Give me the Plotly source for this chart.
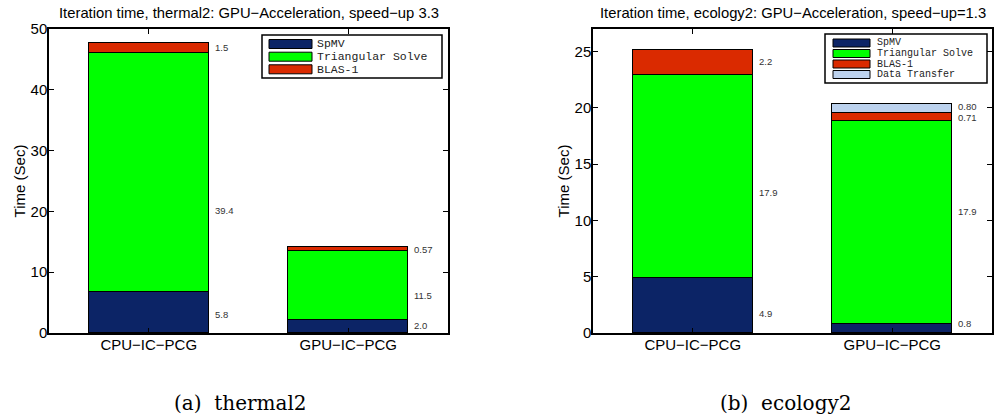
import plotly.graph_objects as go

# ---------------- data ----------------
categories = ["CPU\u2212IC\u2212PCG", "GPU\u2212IC\u2212PCG"]
series_names_a = ["SpMV", "Triangular Solve", "BLAS-1"]
series_names_b = ["SpMV", "Triangular Solve", "BLAS-1", "Data Transfer"]

thermal_spmv = [6.7, 2.1]
thermal_tri = [39.3, 11.4]
thermal_blas = [1.7, 0.6]
thermal_labels_cpu = ["5.8", "39.4", "1.5"]
thermal_labels_gpu = ["2.0", "11.5", "0.57"]

ecology_spmv = [4.9, 0.8]
ecology_tri = [18.0, 18.0]
ecology_blas = [2.2, 0.7]
ecology_transfer = [None, 0.8]
ecology_labels_cpu = ["4.9", "17.9", "2.2"]
ecology_labels_gpu = ["0.8", "17.9", "0.71", "0.80"]

title_a = "Iteration time, thermal2: GPU\u2212Acceleration, speed\u2212up 3.3"
title_b = "Iteration time, ecology2: GPU\u2212Acceleration, speed\u2212up=1.3"
caption_a = "(a)\u00a0 thermal2"
caption_b = "(b)\u00a0 ecology2"
ytitle = "Time (Sec)"

# ---------------- styling ----------------
W, H = 994, 420
colors = ["#0c2466", "#00ff00", "#da2a00", "#bcd2ee"]
SANS = "Liberation Sans, Arial, sans-serif"
MONO = "Liberation Mono, Courier New, monospace"
SERIF = "DejaVu Serif, serif"

# label anchor heights (data units) for the value annotations
label_pos_a = {0: [3.1, 20.1, 46.9], 1: [1.2, 6.1, 13.8]}
label_pos_b = {0: [1.7, 12.5, 24.1], 1: [0.8, 10.8, 19.1, 20.1]}


def px(x):
    return x / W


def py(y):
    return 1 - y / H


fig = go.Figure()

xs = [0, 1]
for name, vals, c in zip(series_names_a, [thermal_spmv, thermal_tri, thermal_blas], colors):
    fig.add_trace(go.Bar(x=xs, y=vals, name=name, marker=dict(color=c, line=dict(color="black", width=1)),
                         width=0.6, xaxis="x", yaxis="y", showlegend=False))
for name, vals, c in zip(series_names_b, [ecology_spmv, ecology_tri, ecology_blas, ecology_transfer], colors):
    fig.add_trace(go.Bar(x=xs, y=vals, name=name, marker=dict(color=c, line=dict(color="black", width=1)),
                         width=0.6, xaxis="x2", yaxis="y2", showlegend=False))

axis_common = dict(showline=True, linecolor="black", linewidth=1.5, mirror="ticks", ticks="inside",
                   ticklen=5, tickcolor="black", showgrid=False, zeroline=False, automargin=False,
                   ticklabelstandoff=-3,
                   tickfont=dict(family=SANS, size=15, color="black"))
ytitle_font = dict(family=SANS, size=15, color="black")

fig.update_layout(
    width=W, height=H, margin=dict(l=0, r=0, t=0, b=0, autoexpand=False),
    paper_bgcolor="white", plot_bgcolor="white", barmode="stack", bargap=0,
    xaxis=dict(domain=[px(49), px(448)], range=[-0.5, 1.5], tickvals=xs, ticktext=categories,
               anchor="y", **axis_common),
    yaxis=dict(domain=[py(333), py(29)], range=[0, 50], tickvals=[0, 10, 20, 30, 40, 50],
               anchor="x", title=dict(text=ytitle, font=ytitle_font, standoff=1), **axis_common),
    xaxis2=dict(domain=[px(593), px(992)], range=[-0.5, 1.5], tickvals=xs, ticktext=categories,
                anchor="y2", **axis_common),
    yaxis2=dict(domain=[py(333), py(29)], range=[0, 27], tickvals=[0, 5, 10, 15, 20, 25],
                anchor="x2", title=dict(text=ytitle, font=ytitle_font, standoff=1), **axis_common),
)

ann = []
# titles
ann.append(dict(text=title_a, x=px(248.5), y=py(13), xref="paper", yref="paper", showarrow=False,
                font=dict(family=SANS, size=14.8, color="black"), xanchor="center", yanchor="middle"))
ann.append(dict(text=title_b, x=px(792.5), y=py(13), xref="paper", yref="paper", showarrow=False,
                font=dict(family=SANS, size=14.8, color="black"), xanchor="center", yanchor="middle"))
# captions
ann.append(dict(text=caption_a, x=px(240), y=py(403), xref="paper", yref="paper", showarrow=False,
                font=dict(family=SERIF, size=20, color="black"), xanchor="center", yanchor="middle"))
ann.append(dict(text=caption_b, x=px(785), y=py(403), xref="paper", yref="paper", showarrow=False,
                font=dict(family=SERIF, size=20, color="black"), xanchor="center", yanchor="middle"))

# value labels
for (xr, yr, labs, pos) in [("x", "y", [thermal_labels_cpu, thermal_labels_gpu], label_pos_a),
                            ("x2", "y2", [ecology_labels_cpu, ecology_labels_gpu], label_pos_b)]:
    for i, lablist in enumerate(labs):
        for t, yv in zip(lablist, pos[i]):
            ann.append(dict(text=t, x=xs[i] + 0.3, y=yv, xref=xr, yref=yr, showarrow=False,
                            xanchor="left", yanchor="middle", xshift=4,
                            font=dict(family=SANS, size=9.5, color="#333333")))

shapes = []


def legend(names, box, sw_x, row_y, sw_h, text_x, fsize):
    x0, x1, y0, y1 = box
    shapes.append(dict(type="rect", xref="paper", yref="paper", x0=px(x0), x1=px(x1), y0=py(y1), y1=py(y0),
                       line=dict(color="black", width=1.5), fillcolor="white", layer="above"))
    for name, c, yc in zip(names, colors, row_y):
        shapes.append(dict(type="rect", xref="paper", yref="paper", x0=px(sw_x[0]), x1=px(sw_x[1]),
                           y0=py(yc + sw_h / 2), y1=py(yc - sw_h / 2),
                           line=dict(color="black", width=1), fillcolor=c, layer="above"))
        ann.append(dict(text=name, x=px(text_x), y=py(yc), xref="paper", yref="paper", showarrow=False,
                        xanchor="left", yanchor="middle", font=dict(family=MONO, size=fsize, color="#222222")))


legend(series_names_a, (262, 442, 35, 78), (269, 312), [44, 56.7, 69.3], 9, 315, 11.5)
legend(series_names_b, (825, 987, 34, 83), (833, 870), [43, 53.5, 64, 74.5], 8, 875, 10)

fig.update_layout(annotations=ann, shapes=shapes)
fig.write_html("out.html")
